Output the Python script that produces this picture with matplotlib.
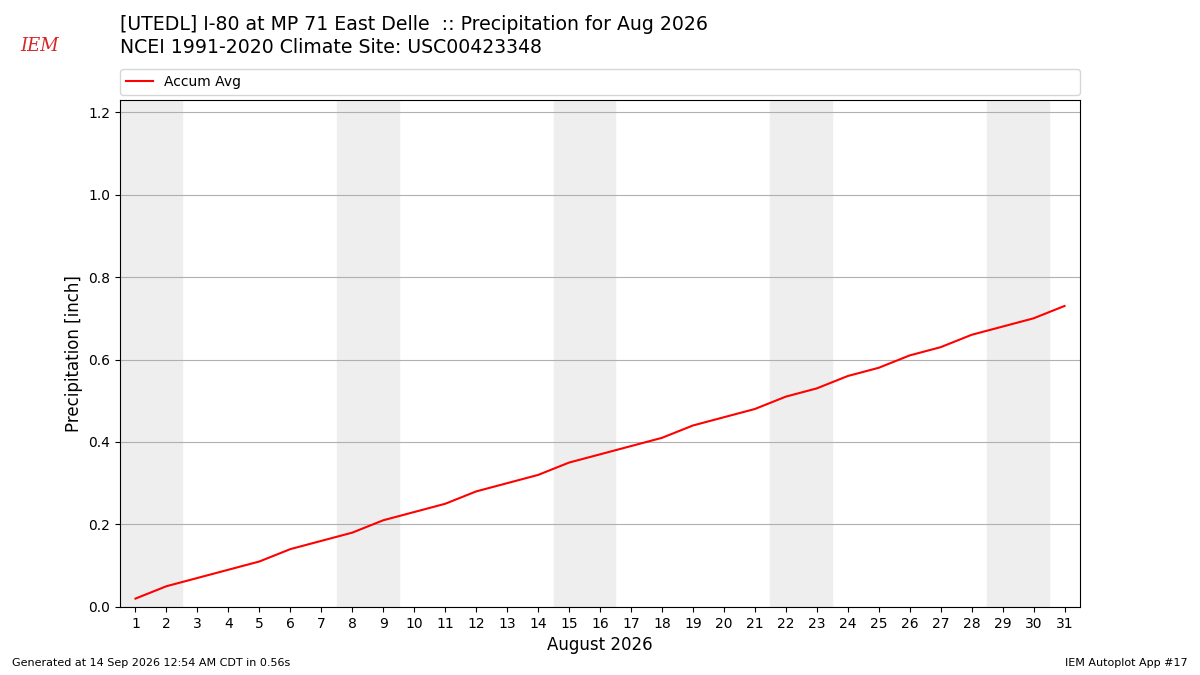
import matplotlib
matplotlib.use("Agg")
import matplotlib.pyplot as plt

days = list(range(1, 32))
accum_avg = [0.02, 0.05, 0.07, 0.09, 0.11, 0.14, 0.16, 0.18, 0.21, 0.23,
             0.25, 0.28, 0.30, 0.32, 0.35, 0.37, 0.39, 0.41, 0.44, 0.46,
             0.48, 0.51, 0.53, 0.56, 0.58, 0.61, 0.63, 0.66, 0.68, 0.70,
             0.73]
# weekend days (Sat/Sun) in Aug 2026
weekends = [(1, 2), (8, 9), (15, 16), (22, 23), (29, 30)]

fig = plt.figure(figsize=(12, 6.75), dpi=100)
ax = fig.add_axes([0.1, 0.101, 0.8, 0.751])

for start, end in weekends:
    ax.axvspan(start - 0.5, end + 0.5, color="#eeeeee", zorder=0)

line, = ax.plot(days, accum_avg, color="r", lw=1.5, label="Accum Avg")

ax.set_xlim(0.5, 31.5)
ax.set_ylim(0, 1.23)
ax.set_xticks(days)
ax.set_yticks([0, 0.2, 0.4, 0.6, 0.8, 1.0, 1.2])
ax.grid(True, axis="y", color="#b0b0b0")
ax.set_axisbelow(True)
ax.set_xlabel("August 2026", fontsize=12)
ax.set_ylabel("Precipitation [inch]", fontsize=12)

fig.legend(handles=[line], loc="lower left", bbox_to_anchor=(0.1, 0.86, 0.8, 0.037),
           mode="expand", ncol=1, fontsize=10, frameon=True, borderaxespad=0)

fig.text(0.1, 0.964, "[UTEDL] I-80 at MP 71 East Delle  :: Precipitation for Aug 2026",
         fontsize=13.6, va="center")
fig.text(0.1, 0.93, "NCEI 1991-2020 Climate Site: USC00423348",
         fontsize=13.6, va="center")

# logo stand-in
fig.text(0.017, 0.932, "IEM", color="#d62728", fontsize=13, family="serif",
         style="italic", va="center")

fig.text(0.01, 0.014, "Generated at 14 Sep 2026 12:54 AM CDT in 0.56s", fontsize=8)
fig.text(0.99, 0.014, "IEM Autoplot App #17", fontsize=8, ha="right")

fig.savefig("out.png", dpi=100)
